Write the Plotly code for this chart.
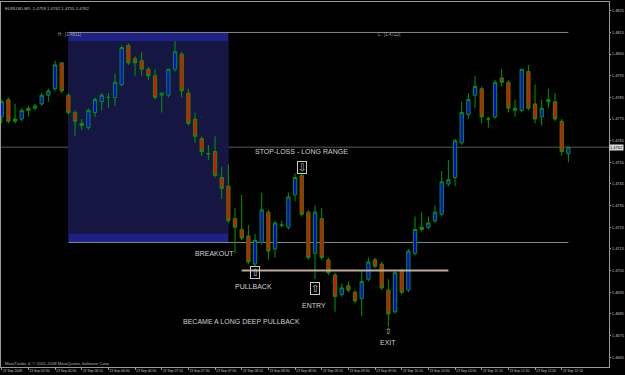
import plotly.graph_objects as go

# ---- data (EURUSD M5, 23 Sep 2008, bars from 05:10) ----
bar_open = [1.4776,1.4784,1.4775,1.4775,1.4780,1.4780,1.4782,1.4786,1.4789,1.4801,
            1.4786,1.4778,1.4773,1.4771,1.4778,1.4783,1.4785,1.4785,1.4791,1.4809,
            1.4803,1.4802,1.4798,1.4795,1.4786,1.4786,1.4798,1.4805,1.4787,1.4775,
            1.4766,1.4759,1.4760,1.4748,1.4744,1.4729,1.4724,1.4721,1.4708,1.4718,
            1.4732,1.4715,1.4726,1.4725,1.4740,1.4749,1.4732,1.4713,1.4729,1.4710,
            1.4703,1.4694,1.4698,1.4695,1.4692,1.4701,1.4710,1.4708,1.4696,1.4686,
            1.4705,1.4696,1.4713,1.4725,1.4725,1.4728,1.4731,1.4745,1.4748,1.4764,
            1.4777,1.4786,1.4789,1.4775,1.4776,1.4794,1.4792,1.4779,1.4779,1.4797,
            1.4782,1.4776,1.4783,1.4783,1.4774,1.4759]
bar_high = [1.4784,1.4785,1.4782,1.4780,1.4781,1.4782,1.4787,1.4789,1.4802,1.4801,
            1.4787,1.4779,1.4775,1.4780,1.4785,1.4787,1.4787,1.4796,1.4809,1.4810,
            1.4804,1.4806,1.4799,1.4798,1.4787,1.4798,1.4811,1.4806,1.4789,1.4778,
            1.4767,1.4763,1.4767,1.4753,1.4754,1.4734,1.4740,1.4726,1.4722,1.4741,
            1.4733,1.4728,1.4728,1.4741,1.4750,1.4750,1.4733,1.4735,1.4734,1.4711,
            1.4704,1.4699,1.4700,1.4696,1.4705,1.4711,1.4711,1.4709,1.4701,1.4705,
            1.4706,1.4715,1.4730,1.4732,1.4730,1.4735,1.4751,1.4756,1.4766,1.4783,
            1.4787,1.4795,1.4790,1.4776,1.4793,1.4798,1.4793,1.4784,1.4798,1.4800,
            1.4791,1.4784,1.4789,1.4787,1.4775,1.4762]
bar_low = [1.4773,1.4773,1.4773,1.4774,1.4776,1.4779,1.4781,1.4783,1.4788,1.4787,
           1.4777,1.4767,1.4770,1.4770,1.4776,1.4779,1.4780,1.4781,1.4790,1.4800,
           1.4795,1.4795,1.4793,1.4784,1.4778,1.4785,1.4797,1.4785,1.4772,1.4764,
           1.4758,1.4756,1.4748,1.4738,1.4727,1.4713,1.4719,1.4708,1.4707,1.4717,
           1.4710,1.4711,1.4725,1.4724,1.4737,1.4730,1.4710,1.4701,1.4710,1.4703,
           1.4686,1.4693,1.4695,1.4690,1.4684,1.4700,1.4706,1.4696,1.4679,1.4685,
           1.4694,1.4695,1.4712,1.4723,1.4724,1.4727,1.4730,1.4744,1.4744,1.4763,
           1.4775,1.4780,1.4773,1.4771,1.4775,1.4790,1.4778,1.4776,1.4778,1.4779,
           1.4773,1.4772,1.4780,1.4774,1.4758,1.4755]
bar_close = [1.4783,1.4774,1.4774,1.4779,1.4779,1.4781,1.4786,1.4788,1.4800,1.4788,
             1.4778,1.4774,1.4772,1.4779,1.4784,1.4786,1.4785,1.4792,1.4808,1.4801,
             1.4801,1.4798,1.4795,1.4785,1.4787,1.4798,1.4806,1.4788,1.4773,1.4767,
             1.4760,1.4759,1.4749,1.4743,1.4728,1.4725,1.4720,1.4709,1.4719,1.4733,
             1.4714,1.4727,1.4726,1.4739,1.4748,1.4731,1.4711,1.4732,1.4711,1.4704,
             1.4693,1.4697,1.4696,1.4691,1.4700,1.4709,1.4707,1.4697,1.4685,1.4704,
             1.4695,1.4714,1.4724,1.4724,1.4727,1.4732,1.4746,1.4747,1.4765,1.4778,
             1.4784,1.4790,1.4776,1.4775,1.4792,1.4792,1.4780,1.4780,1.4798,1.4780,
             1.4775,1.4780,1.4784,1.4775,1.4760,1.4762]
bars = list(range(len(bar_close)))

time_tick_bars = list(range(0, 85, 4))
time_tick_labels = ["23 Sep 2008", "23 Sep 05:30", "23 Sep 05:50", "23 Sep 06:10", "23 Sep 06:30",
                    "23 Sep 06:50", "23 Sep 07:10", "23 Sep 07:30", "23 Sep 07:50", "23 Sep 08:10",
                    "23 Sep 08:30", "23 Sep 08:50", "23 Sep 09:10", "23 Sep 09:30", "23 Sep 09:50",
                    "23 Sep 10:10", "23 Sep 10:30", "23 Sep 10:50", "23 Sep 11:10", "23 Sep 11:30",
                    "23 Sep 11:50", "23 Sep 12:10"]
price_ticks = [1.4665, 1.4675, 1.4685, 1.4695, 1.4705, 1.4715, 1.4725, 1.4735, 1.4745,
               1.4755, 1.4765, 1.4775, 1.4785, 1.4795, 1.4805, 1.4815, 1.4825]

range_high = 1.4811
range_low = 1.4722
range_offset = 0.0004
range_start_bar = 10
range_end_bar = 34
levels_end_bar = 85
bid = 1.4762
pullback_level = 1.4705
pullback_start_bar = 36
pullback_end_bar = 67

GREEN = "#009a00"
TXT = "#d0d0d0"

fig = go.Figure()
fig.add_trace(go.Candlestick(
    x=bars, open=bar_open, high=bar_high, low=bar_low, close=bar_close,
    increasing=dict(fillcolor="#0000ff", line=dict(color=GREEN, width=1)),
    decreasing=dict(fillcolor="#ff0000", line=dict(color=GREEN, width=1)),
    whiskerwidth=0, showlegend=False, hoverinfo="skip"))

shapes = [
    dict(type="rect", xref="x", yref="y", x0=range_start_bar, x1=range_end_bar,
         y0=range_low - range_offset, y1=range_high + range_offset,
         fillcolor="rgb(30,34,135)", line=dict(width=0), layer="below"),
    dict(type="rect", xref="x", yref="y", x0=range_start_bar, x1=range_end_bar,
         y0=range_low, y1=range_high,
         fillcolor="rgb(21,22,66)", line=dict(width=0), layer="below"),
    dict(type="line", xref="x", yref="y", x0=range_start_bar, x1=levels_end_bar,
         y0=range_high + range_offset, y1=range_high + range_offset,
         line=dict(color="#8a8a8a", width=1), layer="below"),
    dict(type="line", xref="x", yref="y", x0=range_start_bar, x1=levels_end_bar,
         y0=range_low - range_offset, y1=range_low - range_offset,
         line=dict(color="#8a8a8a", width=1), layer="below"),
    dict(type="line", xref="paper", yref="y", x0=0, x1=1, y0=bid, y1=bid,
         line=dict(color="#3c3c3c", width=1.5), layer="below"),
    dict(type="line", xref="x", yref="y", x0=pullback_start_bar, x1=pullback_end_bar,
         y0=pullback_level, y1=pullback_level,
         line=dict(color="#bcac9c", width=2), layer="above"),
]

def txt(x, y, s, size=7, anchor="center", color=TXT, **kw):
    d = dict(x=x, y=y, xref="x", yref="y", text=s, showarrow=False,
             xanchor=anchor, yanchor="middle",
             font=dict(family="Liberation Sans, Arial", size=size, color=color))
    d.update(kw)
    return d

annotations = [
    txt(44.9, 1.47598, "STOP-LOSS - LONG RANGE"),
    txt(31.9, 1.47131, "BREAKOUT"),
    txt(37.8, 1.46977, "PULLBACK"),
    txt(46.9, 1.46891, "ENTRY"),
    txt(35.9, 1.46817, "BECAME A LONG DEEP PULLBACK"),
    txt(57.9, 1.46716, "EXIT"),
    txt(8.1, 1.48141, "H : [1.4811]", size=4.5, anchor="left", color="#a0a0a0"),
    txt(56.1, 1.48141, "L : [1.4722]", size=4.5, anchor="left", color="#a0a0a0"),
]
box_style = dict(bordercolor="#c8c8c8", borderwidth=1, borderpad=0)
for bx, by, glyph in [(45, 1.47524, "\u21e9"), (38, 1.47041, "\u21e7"), (47, 1.46965, "\u21e7")]:
    a = txt(bx, by, glyph, size=10, color="#c8c8c8")
    a["font"]["family"] = "DejaVu Sans"
    a.update(box_style)
    annotations.append(a)
a = txt(58, 1.46771, "\u21e7", size=8, color="#c8c8c8")
a["font"]["family"] = "DejaVu Sans"
annotations.append(a)

annotations += [
    dict(x=0.003, y=0.995, xref="paper", yref="paper", text="EURUSD,M5  1.4759 1.4762 1.4755 1.4762",
         showarrow=False, xanchor="left", yanchor="top",
         font=dict(family="Liberation Sans, Arial", size=4.3, color="#c0c0c0")),
    dict(x=0.003, y=0.009, xref="paper", yref="paper",
         text="MetaTrader 4, \u00a9 2001-2008 MetaQuotes Software Corp.",
         showarrow=False, xanchor="left", yanchor="middle",
         font=dict(family="Liberation Sans, Arial", size=4.2, color="#b0b0b0")),
    dict(x=1.0, y=bid, xref="paper", yref="y", text="%.4f" % bid, showarrow=False,
         xanchor="left", yanchor="middle", bgcolor="#d8d8d8", borderpad=0,
         font=dict(family="Liberation Sans, Arial", size=4.0, color="#000000")),
]

fig.update_layout(
    width=625, height=375, autosize=False,
    margin=dict(l=1, r=16, t=2, b=8),
    paper_bgcolor="#000000", plot_bgcolor="#000000",
    shapes=shapes, annotations=annotations, showlegend=False,
    xaxis=dict(range=[-0.105, 91.09], showgrid=False, zeroline=False, automargin=False,
               rangeslider=dict(visible=False),
               tickmode="array", tickvals=time_tick_bars, ticktext=time_tick_labels,
               tickangle=0,
               ticks="outside", ticklen=2, tickcolor="#9a9a9a",
               ticklabelposition="outside right",
               tickfont=dict(family="Liberation Sans, Arial", size=3.4, color="#c0c0c0"),
               showline=True, linecolor="#9a9a9a", linewidth=1, mirror=True),
    yaxis=dict(range=[1.466047, 1.482906], side="right", showgrid=False, zeroline=False,
               automargin=False,
               tickmode="array", tickvals=price_ticks,
               ticktext=["%.4f" % v for v in price_ticks],
               ticks="outside", ticklen=1, tickcolor="#9a9a9a",
               tickfont=dict(family="Liberation Sans, Arial", size=4.0, color="#c0c0c0"),
               showline=True, linecolor="#9a9a9a", linewidth=1, mirror=True),
)

fig.write_html("out.html")
